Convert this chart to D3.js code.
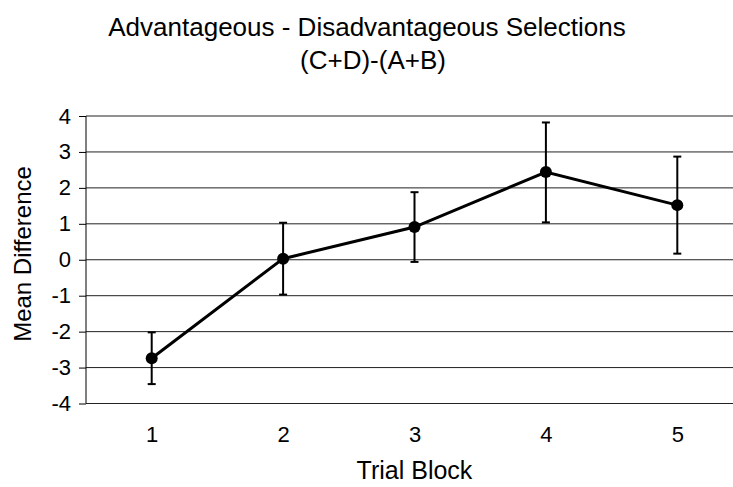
<!DOCTYPE html>
<html><head><meta charset="utf-8">
<script src="https://cdn.jsdelivr.net/npm/d3@7"></script>
<style>body{margin:0;background:#fff}svg{display:block}text{font-family:"Liberation Sans",Arial,sans-serif;fill:#000}</style>
</head><body>
<svg id="c" width="733" height="487"></svg>
<script>
const blocks = ["1","2","3","4","5"];
const means = [-2.74, 0.03, 0.91, 2.44, 1.52];
const upper = [-2.02, 1.03, 1.88, 3.82, 2.87];
const lower = [-3.46, -0.97, -0.06, 1.04, 0.17];
const yTicks = [-4,-3,-2,-1,0,1,2,3,4];
const titleLines = ["Advantageous - Disadvantageous Selections", "(C+D)-(A+B)"];
const xTitle = "Trial Block", yTitle = "Mean Difference";

const svg = d3.select("#c");
const L = 86, R = 743, T = 116, B = 403.5;
const x = d3.scalePoint().domain(blocks).range([L, R]).padding(0.5);
const y = d3.scaleLinear().domain([-4, 4]).range([B, T]);

// gridlines
svg.append("g").selectAll("line").data(yTicks).join("line")
  .attr("x1", L).attr("x2", R).attr("y1", d => y(d)).attr("y2", d => y(d))
  .attr("stroke", "#222").attr("stroke-width", 1);

// y axis
const ya = svg.append("g").attr("transform", `translate(${L},0)`)
  .call(d3.axisLeft(y).tickValues(yTicks).tickSize(7).tickPadding(8).tickFormat(d => String(d)));
ya.select(".domain").attr("stroke", "#000").attr("d", `M0,${T}V${B}`);
ya.selectAll(".tick line").attr("stroke", "#000");
ya.selectAll("text").attr("font-size", 22).attr("font-family", '"Liberation Sans",Arial,sans-serif').attr("fill", "#000");

// x tick labels
const xa = svg.append("g").attr("transform", `translate(0,${B})`)
  .call(d3.axisBottom(x).tickSize(0).tickPadding(23));
xa.select(".domain").remove();
xa.selectAll("text").attr("font-size", 22).attr("font-family", '"Liberation Sans",Arial,sans-serif').attr("fill", "#000");

// error bars
const eb = svg.append("g").attr("stroke", "#000").attr("stroke-width", 2);
blocks.forEach((b, i) => {
  eb.append("line").attr("x1", x(b)).attr("x2", x(b)).attr("y1", y(upper[i])).attr("y2", y(lower[i]));
  eb.append("line").attr("x1", x(b) - 4).attr("x2", x(b) + 4).attr("y1", y(upper[i])).attr("y2", y(upper[i]));
  eb.append("line").attr("x1", x(b) - 4).attr("x2", x(b) + 4).attr("y1", y(lower[i])).attr("y2", y(lower[i]));
});

// line
svg.append("path").datum(means.map((m, i) => [x(blocks[i]), y(m)]))
  .attr("d", d3.line()).attr("fill", "none").attr("stroke", "#000").attr("stroke-width", 3);
svg.append("g").selectAll("circle").data(means).join("circle")
  .attr("cx", (d, i) => x(blocks[i])).attr("cy", d => y(d)).attr("r", 6).attr("fill", "#000");

// titles
svg.append("text").attr("x", 367).attr("y", 36).attr("text-anchor", "middle").attr("font-size", 26).text(titleLines[0]);
svg.append("text").attr("x", 373).attr("y", 69).attr("text-anchor", "middle").attr("font-size", 26).text(titleLines[1]);
svg.append("text").attr("x", (L + R) / 2).attr("y", 479).attr("text-anchor", "middle").attr("font-size", 25).text(xTitle);
svg.append("text").attr("transform", `translate(31,254) rotate(-90)`).attr("text-anchor", "middle").attr("font-size", 24).text(yTitle);
</script>
</body></html>
